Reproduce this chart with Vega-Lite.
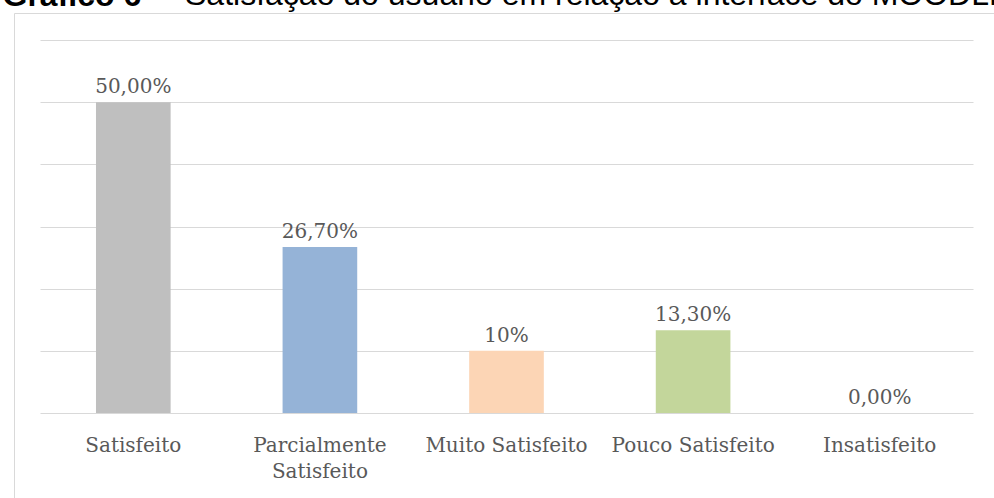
{
  "$schema": "https://vega.github.io/schema/vega-lite/v6.json",
  "width": 1000,
  "height": 500,
  "autosize": "none",
  "padding": {"left": 14, "top": 13, "right": 0, "bottom": 0},
  "background": "white",
  "title": {
    "text": "Satisfação do usuário em relação à interface do MOODLE",
    "anchor": "start",
    "frame": "group",
    "orient": "top",
    "font": "Liberation Sans",
    "fontSize": 32,
    "fontWeight": "normal",
    "color": "#000000",
    "baseline": "alphabetic",
    "offset": 0,
    "dx": 171,
    "dy": 58
  },
  "data": {
    "values": [
      {"categoria": "Satisfeito", "valor": 0.5, "rotulo": "50,00%"},
      {"categoria": "Parcialmente Satisfeito", "valor": 0.267, "rotulo": "26,70%"},
      {"categoria": "Muito Satisfeito", "valor": 0.1, "rotulo": "10%"},
      {"categoria": "Pouco Satisfeito", "valor": 0.133, "rotulo": "13,30%"},
      {"categoria": "Insatisfeito", "valor": 0.0, "rotulo": "0,00%"}
    ]
  },
  "encoding": {
    "x": {
      "field": "categoria",
      "type": "nominal",
      "sort": null,
      "scale": {"range": [26, 959], "paddingInner": 0.6, "paddingOuter": 0.3},
      "axis": {
        "title": null,
        "orient": "bottom",
        "offset": -100,
        "domainColor": "#D9D9D9",
        "domainWidth": 1,
        "ticks": false,
        "labelAngle": 0,
        "labelFont": "DejaVu Serif",
        "labelFontSize": 20,
        "labelColor": "#595959",
        "labelPadding": 22,
        "labelLineHeight": 26,
        "labelLimit": 300,
        "labelExpr": "datum.label == 'Parcialmente Satisfeito' ? ['Parcialmente', 'Satisfeito'] : datum.label"
      }
    },
    "y": {
      "field": "valor",
      "type": "quantitative",
      "scale": {"domain": [0, 0.6], "range": [400, 27], "nice": false},
      "axis": {
        "title": "Gráfico 6 -",
        "titleAngle": 0,
        "titleX": -12,
        "titleY": -8,
        "titleAlign": "left",
        "titleBaseline": "alphabetic",
        "titleFont": "Liberation Sans",
        "titleFontSize": 32,
        "titleFontWeight": "bold",
        "titleColor": "#000000",
        "labels": false,
        "ticks": false,
        "domain": false,
        "grid": true,
        "gridColor": "#D9D9D9",
        "gridWidth": 1,
        "values": [0.1, 0.2, 0.3, 0.4, 0.5, 0.6]
      }
    }
  },
  "layer": [
    {
      "mark": {"type": "bar"},
      "encoding": {
        "color": {
          "field": "categoria",
          "type": "nominal",
          "scale": {
            "domain": ["Satisfeito", "Parcialmente Satisfeito", "Muito Satisfeito", "Pouco Satisfeito", "Insatisfeito"],
            "range": ["#BFBFBF", "#95B3D7", "#FCD5B5", "#C3D69B", "#B3A2C7"]
          },
          "legend": null
        }
      }
    },
    {
      "mark": {
        "type": "text",
        "baseline": "alphabetic",
        "dy": -9,
        "font": "DejaVu Serif",
        "fontSize": 20,
        "color": "#595959"
      },
      "encoding": {
        "text": {"field": "rotulo", "type": "nominal"}
      }
    }
  ],
  "config": {
    "view": {"stroke": "#D9D9D9", "strokeWidth": 1}
  }
}
